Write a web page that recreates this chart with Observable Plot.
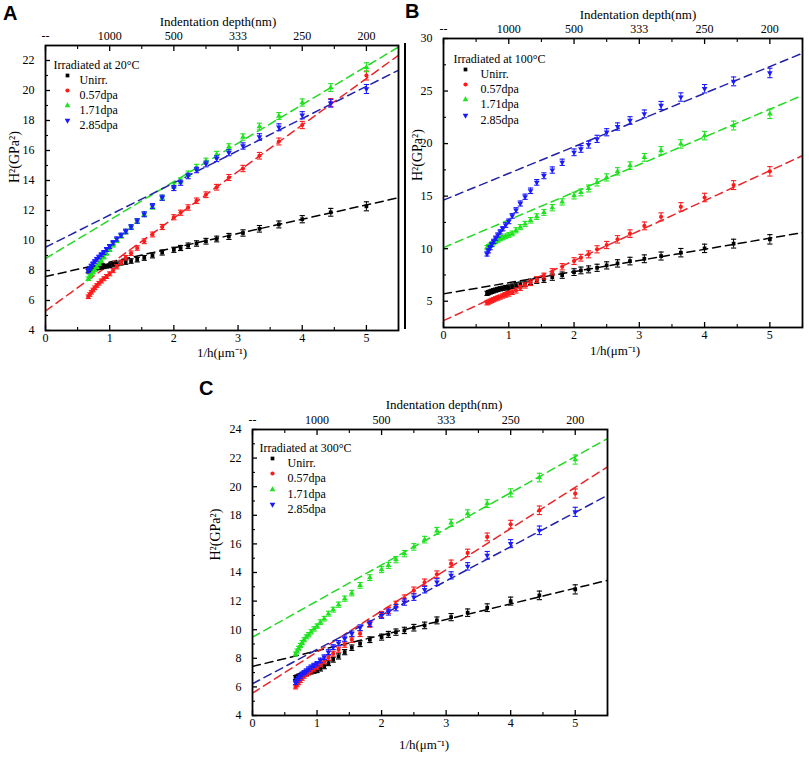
<!DOCTYPE html>
<html><head><meta charset="utf-8">
<script src="https://cdn.jsdelivr.net/npm/d3@7"></script>
<script src="https://cdn.jsdelivr.net/npm/@observablehq/plot@0.6"></script>
<style>
html,body{margin:0;padding:0;background:#fff;}
#wrap{position:relative;width:809px;height:759px;background:#fff;overflow:hidden;}
.pan{position:absolute;}
.pan svg{overflow:visible;}
.letter{position:absolute;font:bold 20px "Liberation Sans",Arial,sans-serif;line-height:1;color:#000;}
.artifact{position:absolute;left:404px;top:43px;width:2px;height:286px;background:#000;}
</style></head><body><div id="wrap"></div>
<script>
// ---------------- data ----------------
const depthNm = [1500,1450,1400,1350,1300,1250,1200,1150,1100,1050,1000,
  950,900,850,800,750,700,650,600,550,500,
  475,450,425,400,375,350,325,300,275,250,225,200];
const seriesNames = ["Unirr.","0.57dpa","1.71dpa","2.85dpa"];
const pointColors = ["#000000","#ff1a1a","#1ee31e","#1a1aff"];
const lineColors = ["#000000","#e8262a","#23d923","#2323a8"];
const xTicks = [0,1,2,3,4,5];
const xMinor = [0.5,1.5,2.5,3.5,4.5,5.5];
const topTickLabels = ["--","1000","500","333","250","200"];
const fitX = [0,5.5];

// Panel A (20 °C)
const a_unirr = [7.95,8.0,8.04,8.08,8.12,8.16,8.2,8.23,8.26,8.29,8.32, 8.38,8.43,8.5,8.56,8.63,8.72,8.84,9.0,9.2,9.38, 9.5,9.65,9.8,9.95,10.1,10.27,10.5,10.78,11.07,11.42,11.88,12.28];
const a_057 = [6.25,6.4,6.55,6.7,6.85,7.0,7.15,7.3,7.45,7.6,7.78, 8.0,8.25,8.55,8.85,9.15,9.5,9.95,10.4,10.9,11.55, 11.85,12.2,12.65,13.05,13.55,14.2,14.8,15.65,16.6,17.7,19.2,21.0];
const a_171 = [7.45,7.6,7.75,7.9,8.05,8.25,8.45,8.65,8.9,9.15,9.4, 9.7,10.0,10.3,10.6,10.9,11.3,11.75,12.25,12.85,13.65, 14.0,14.45,14.9,15.3,15.75,16.25,16.9,17.6,18.3,19.2,20.2,21.55];
const a_285 = [8.0,8.15,8.3,8.45,8.6,8.75,8.9,9.05,9.2,9.4,9.6, 9.85,10.1,10.35,10.6,10.9,11.3,11.75,12.3,12.85,13.5, 13.85,14.3,14.7,15.1,15.45,15.85,16.3,16.9,17.55,18.35,19.15,20.1];
const a_err = [0.12,0.12,0.12,0.12,0.12,0.12,0.12,0.13,0.13,0.13,0.13, 0.14,0.14,0.14,0.15,0.15,0.15,0.16,0.16,0.17,0.17, 0.17,0.18,0.18,0.19,0.19,0.2,0.21,0.22,0.23,0.24,0.26,0.3];
const a_fitStart = [7.6,5.3,8.8,9.55];
const a_fitEnd = [12.85,22.35,22.9,21.35];
const a_yTicks = [4,6,8,10,12,14,16,18,20,22];
const a_yMinor = [5,7,9,11,13,15,17,19,21];

// Panel B (100 °C)
const b_unirr = [5.75,5.82,5.88,5.94,6.0,6.06,6.12,6.18,6.23,6.28,6.33, 6.43,6.53,6.59,6.66,6.85,6.97,7.07,7.29,7.48,7.77, 7.93,8.03,8.18,8.41,8.6,8.82,9.04,9.3,9.62,10.03,10.48,10.89];
const b_057 = [4.85,4.92,5.0,5.08,5.15,5.23,5.31,5.4,5.5,5.6,5.7, 5.86,6.02,6.27,6.5,6.75,7.07,7.39,7.8,8.28,8.82, 9.14,9.46,9.94,10.35,10.89,11.43,12.17,13.03,13.98,14.87,16.05,17.36];
const b_171 = [10.1,10.2,10.32,10.45,10.58,10.7,10.82,10.95,11.05,11.17,11.3, 11.45,11.75,12.05,12.35,12.7,13.05,13.45,13.9,14.45,15.05, 15.35,15.73,16.31,16.78,17.36,17.9,18.69,19.33,19.97,20.76,21.72,22.83];
const b_285 = [9.5,9.8,10.1,10.4,10.7,11.0,11.3,11.6,11.9,12.25,12.6, 13.12,13.66,14.3,14.94,15.51,16.31,16.94,17.48,18.22,19.17, 19.49,19.9,20.45,21.08,21.62,22.2,22.83,23.63,24.43,25.22,25.92,26.72];
const b_err = [0.2,0.2,0.2,0.2,0.2,0.2,0.2,0.2,0.2,0.22,0.22, 0.22,0.24,0.24,0.25,0.26,0.27,0.28,0.3,0.3,0.32, 0.32,0.33,0.34,0.34,0.35,0.36,0.37,0.38,0.4,0.4,0.42,0.45];
const b_fitStart = [5.7,3.15,10.1,14.62];
const b_fitEnd = [11.53,18.85,24.59,28.6];
const b_yTicks = [5,10,15,20,25,30];
const b_yMinor = [2.5,7.5,12.5,17.5,22.5,27.5];

// Panel C (300 °C)
const c_unirr = [6.65,6.7,6.75,6.8,6.85,6.9,6.95,7.0,7.05,7.1,7.15, 7.27,7.43,7.66,7.9,8.13,8.43,8.74,9.02,9.3,9.48, 9.67,9.83,9.95,10.14,10.3,10.65,10.88,11.19,11.54,12.0,12.4,12.82];
const c_057 = [6.0,6.15,6.3,6.45,6.6,6.75,6.88,7.0,7.12,7.25,7.38, 7.57,7.78,8.04,8.32,8.6,8.95,9.3,9.72,10.37,11.07, 11.35,11.77,12.21,12.75,13.31,13.87,14.62,15.37,16.49,17.37,18.35,19.52];
const c_171 = [8.3,8.5,8.7,8.9,9.1,9.3,9.5,9.65,9.85,10.05,10.25, 10.53,10.77,11.12,11.4,11.75,12.17,12.56,13.1,13.64,14.2, 14.5,14.9,15.32,15.79,16.3,16.91,17.47,18.12,18.82,19.57,20.64,21.9];
const c_285 = [6.3,6.45,6.6,6.75,6.9,7.0,7.12,7.25,7.38,7.5,7.62, 7.85,8.08,8.43,8.78,9.06,9.37,9.72,10.14,10.42,11.0, 11.23,11.54,11.93,12.28,12.8,13.33,13.8,14.43,15.2,16.02,16.95,18.24];
const c_err = [0.14,0.14,0.14,0.14,0.14,0.14,0.14,0.15,0.15,0.15,0.15, 0.16,0.16,0.17,0.17,0.18,0.18,0.19,0.2,0.2,0.21, 0.21,0.22,0.22,0.23,0.23,0.24,0.25,0.26,0.27,0.28,0.3,0.32];
const c_fitStart = [7.43,5.56,9.48,6.22];
const c_fitEnd = [13.45,21.39,23.37,19.4];
const c_yTicks = [4,6,8,10,12,14,16,18,20,22,24];
const c_yMinor = [5,7,9,11,13,15,17,19,21,23];

// ---------------- symbols (shape geometry only) ----------------
const S3 = Math.sqrt(3);
const triDown = {draw(ctx, size){ const y = -Math.sqrt(size/(S3*3)); ctx.moveTo(0,-y*2); ctx.lineTo(-S3*y,y); ctx.lineTo(S3*y,y); ctx.closePath(); }};
const capSym = {draw(ctx, size){ const w = Math.sqrt(size/Math.PI); ctx.moveTo(-w,0); ctx.lineTo(w,0); }};
const symbols = ["square","circle","triangle",triDown];

const serif = '"Liberation Serif","Times New Roman",serif';
const noText = () => "";

const panels = [
  {letter:"A", temp:"Irradiated at 20°C", series:[a_unirr,a_057,a_171,a_285], err:a_err,
   fitStart:a_fitStart, fitEnd:a_fitEnd, yDomain:[4,23], yTicks:a_yTicks, yMinor:a_yMinor,
   left:0, top:0, width:400, height:365, m:{top:45,right:2,bottom:35,left:45},
   lg:{titleDx:8,titleDy:15,markDx:22,labelDx:34,rows:[30,45,60,75]},
   topLabel:{dx:-4,dy:-29}, xLabel:{dx:0,dy:26}, yLabel:{dx:-31,dy:-5},
   letterPos:[3,3]},
  {letter:"B", temp:"Irradiated at 100°C", series:[b_unirr,b_057,b_171,b_285], err:b_err,
   fitStart:b_fitStart, fitEnd:b_fitEnd, yDomain:[2.5,30], yTicks:b_yTicks, yMinor:b_yMinor,
   left:400, top:0, width:409, height:365, m:{top:38,right:7,bottom:38,left:43},
   lg:{titleDx:10,titleDy:16,markDx:22,labelDx:37,rows:[31,46,61,77]},
   topLabel:{dx:15,dy:-29}, xLabel:{dx:-8,dy:27}, yLabel:{dx:-26,dy:-2},
   letterPos:[405,1]},
  {letter:"C", temp:"Irradiated at 300°C", series:[c_unirr,c_057,c_171,c_285], err:c_err,
   fitStart:c_fitStart, fitEnd:c_fitEnd, yDomain:[4,24], yTicks:c_yTicks, yMinor:c_yMinor,
   left:200, top:370, width:420, height:389, m:{top:59,right:13,bottom:44,left:52},
   lg:{titleDx:7,titleDy:14,markDx:20,labelDx:35,rows:[29,44,60,75]},
   topLabel:{dx:14,dy:-30}, xLabel:{dx:-6,dy:33}, yLabel:{dx:-37,dy:-12},
   letterPos:[199,378]}
];

const wrap = document.getElementById("wrap");

function makePanel(p){
  const marks = [];
  // fitted dashed lines
  p.fitStart.forEach((y0, si) => {
    const pts = [{x:fitX[0], y:y0},{x:fitX[1], y:p.fitEnd[si]}];
    marks.push(Plot.line(pts, {x:"x", y:"y", stroke:lineColors[si], strokeWidth:1.5, strokeDasharray:"8,5", clip:true}));
  });
  // points with error bars
  p.series.forEach((vals, si) => {
    const d = vals.map((v,i) => ({x:1000/depthNm[i], y:v, e:p.err[i]}));
    marks.push(Plot.ruleX(d, {x:"x", y1:r=>r.y-r.e, y2:r=>r.y+r.e, stroke:pointColors[si], strokeWidth:1}));
    marks.push(Plot.dot(d, {x:"x", y:r=>r.y+r.e, symbol:capSym, r:2.6, fill:"none", stroke:pointColors[si], strokeWidth:1.1}));
    marks.push(Plot.dot(d, {x:"x", y:r=>r.y-r.e, symbol:capSym, r:2.6, fill:"none", stroke:pointColors[si], strokeWidth:1.1}));
    marks.push(Plot.dot(d, {x:"x", y:"y", symbol:symbols[si], r:2.1, fill:pointColors[si], stroke:"none"}));
  });
  // frame & axes
  marks.push(Plot.frame({stroke:"#000", strokeWidth:1.8}));
  marks.push(Plot.axisX({anchor:"bottom", ticks:xTicks, tickSize:5, dy:-5, tickFormat:noText, strokeWidth:1.3, label:null}));
  marks.push(Plot.axisX({anchor:"bottom", ticks:xMinor, tickSize:3, dy:-3, tickFormat:noText, strokeWidth:1.1, label:null}));
  marks.push(Plot.axisX({anchor:"bottom", ticks:xTicks, tickSize:0, tickPadding:3, fontSize:12, fontFamily:serif, label:null, tickFormat:d=>String(d)}));
  marks.push(Plot.axisX({anchor:"top", ticks:xTicks, tickSize:5, dy:5, tickFormat:noText, strokeWidth:1.3, label:null}));
  marks.push(Plot.axisX({anchor:"top", ticks:xMinor, tickSize:3, dy:3, tickFormat:noText, strokeWidth:1.1, label:null}));
  marks.push(Plot.axisX({anchor:"top", ticks:xTicks, tickSize:0, tickPadding:6, fontSize:12, fontFamily:serif, label:null, tickFormat:d=>topTickLabels[xTicks.indexOf(d)]}));
  marks.push(Plot.axisY({anchor:"left", ticks:p.yTicks, tickSize:5, dx:5, tickFormat:noText, strokeWidth:1.3, label:null}));
  marks.push(Plot.axisY({anchor:"left", ticks:p.yMinor, tickSize:3, dx:3, tickFormat:noText, strokeWidth:1.1, label:null}));
  marks.push(Plot.axisY({anchor:"left", ticks:p.yTicks, tickSize:0, tickPadding:11, fontSize:12, fontFamily:serif, label:null, tickFormat:d=>String(d)}));
  // axis titles
  marks.push(Plot.text(["Indentation depth(nm)"], {text:d=>d, frameAnchor:"top", dx:p.topLabel.dx, dy:p.topLabel.dy, fontSize:13, fontFamily:serif}));
  marks.push(Plot.text(["1/h(μm⁻¹)"], {text:d=>d, frameAnchor:"bottom", dx:p.xLabel.dx, dy:p.xLabel.dy, fontSize:13, fontFamily:serif}));
  marks.push(Plot.text(["H²(GPa²)"], {text:d=>d, frameAnchor:"left", dx:p.yLabel.dx, dy:p.yLabel.dy, rotate:-90, fontSize:14, fontFamily:serif}));
  // legend
  marks.push(Plot.text([p.temp], {text:d=>d, frameAnchor:"top-left", dx:p.lg.titleDx, dy:p.lg.titleDy, textAnchor:"start", fontSize:12, fontFamily:serif}));
  seriesNames.forEach((name, si) => {
    marks.push(Plot.dot([name], {frameAnchor:"top-left", dx:p.lg.markDx, dy:p.lg.rows[si], symbol:symbols[si], r:2.1, fill:pointColors[si], stroke:"none"}));
    marks.push(Plot.text([name], {text:d=>d, frameAnchor:"top-left", dx:p.lg.labelDx, dy:p.lg.rows[si], textAnchor:"start", fontSize:12, fontFamily:serif}));
  });

  const svg = Plot.plot({
    width:p.width, height:p.height,
    marginTop:p.m.top, marginRight:p.m.right, marginBottom:p.m.bottom, marginLeft:p.m.left,
    x:{domain:[0,5.5], axis:null},
    y:{domain:p.yDomain, axis:null},
    style:{fontFamily:serif, fontSize:"12px", background:"transparent", color:"#000", overflow:"visible"},
    marks
  });
  const div = document.createElement("div");
  div.className = "pan";
  div.style.left = p.left + "px";
  div.style.top = p.top + "px";
  div.appendChild(svg);
  wrap.appendChild(div);
  const L = document.createElement("div");
  L.className = "letter";
  L.textContent = p.letter;
  L.style.left = p.letterPos[0] + "px";
  L.style.top = p.letterPos[1] + "px";
  wrap.appendChild(L);
}
panels.forEach(makePanel);
const art = document.createElement("div");
art.className = "artifact";
wrap.appendChild(art);
</script></body></html>
